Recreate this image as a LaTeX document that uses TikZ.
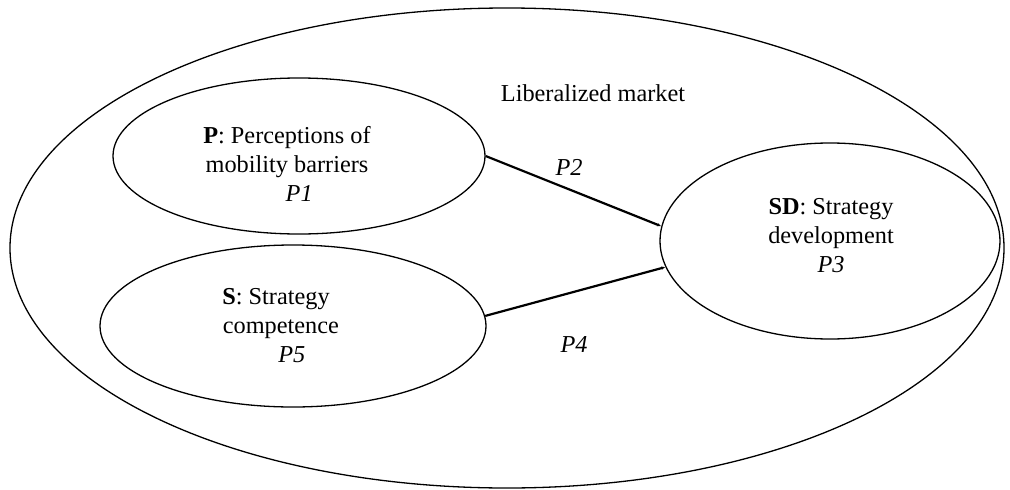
\documentclass[tikz,border=0pt]{standalone}
\usepackage{fontspec}
\setmainfont{Liberation Serif}
\usetikzlibrary{shapes.geometric,arrows.meta}
\begin{document}
\begin{tikzpicture}[x=1pt,y=-1pt,
  oval/.style={draw,ellipse,line width=1.3pt,inner sep=0pt},
  txt/.style={font=\fontsize{24.3}{29}\selectfont,align=center,inner sep=0pt},
  link/.style={line width=2.2pt,-{Latex[length=4pt,width=3.5pt]}}]
  \useasboundingbox (0,0) rectangle (1010,490);
  % market boundary
  \node[oval,minimum width=994pt,minimum height=480pt] (M) at (507,248) {};
  \node[txt] (ML) at (593,93) {Liberalized market};
  % constructs
  \node[oval,minimum width=372pt,minimum height=156pt] (P) at (299,156) {};
  \node[oval,minimum width=386pt,minimum height=162pt] (S) at (293,326) {};
  \node[oval,minimum width=340pt,minimum height=196pt] (SD) at (830,241) {};
  \node[txt] (PL) at (287,164) {\textbf{P}: Perceptions of\\mobility barriers\\\hspace*{1em}\textit{P1}};
  \node[txt] (SL) at (276,326) {\textbf{S}: Strategy\\\hspace*{0.4em}competence\\\hspace*{1.3em}\textit{P5}};
  \node[txt] (SDL) at (831,236) {\textbf{SD}: Strategy\\development\\\textit{P3}};
  % propositions
  \draw[link] (P.east) -- (SD.175);
  \draw[link] (S.3) -- (SD.189);
  \node[txt] (P2) at (569,167) {\textit{P2}};
  \node[txt] (P4) at (574,344) {\textit{P4}};
\end{tikzpicture}
\end{document}
